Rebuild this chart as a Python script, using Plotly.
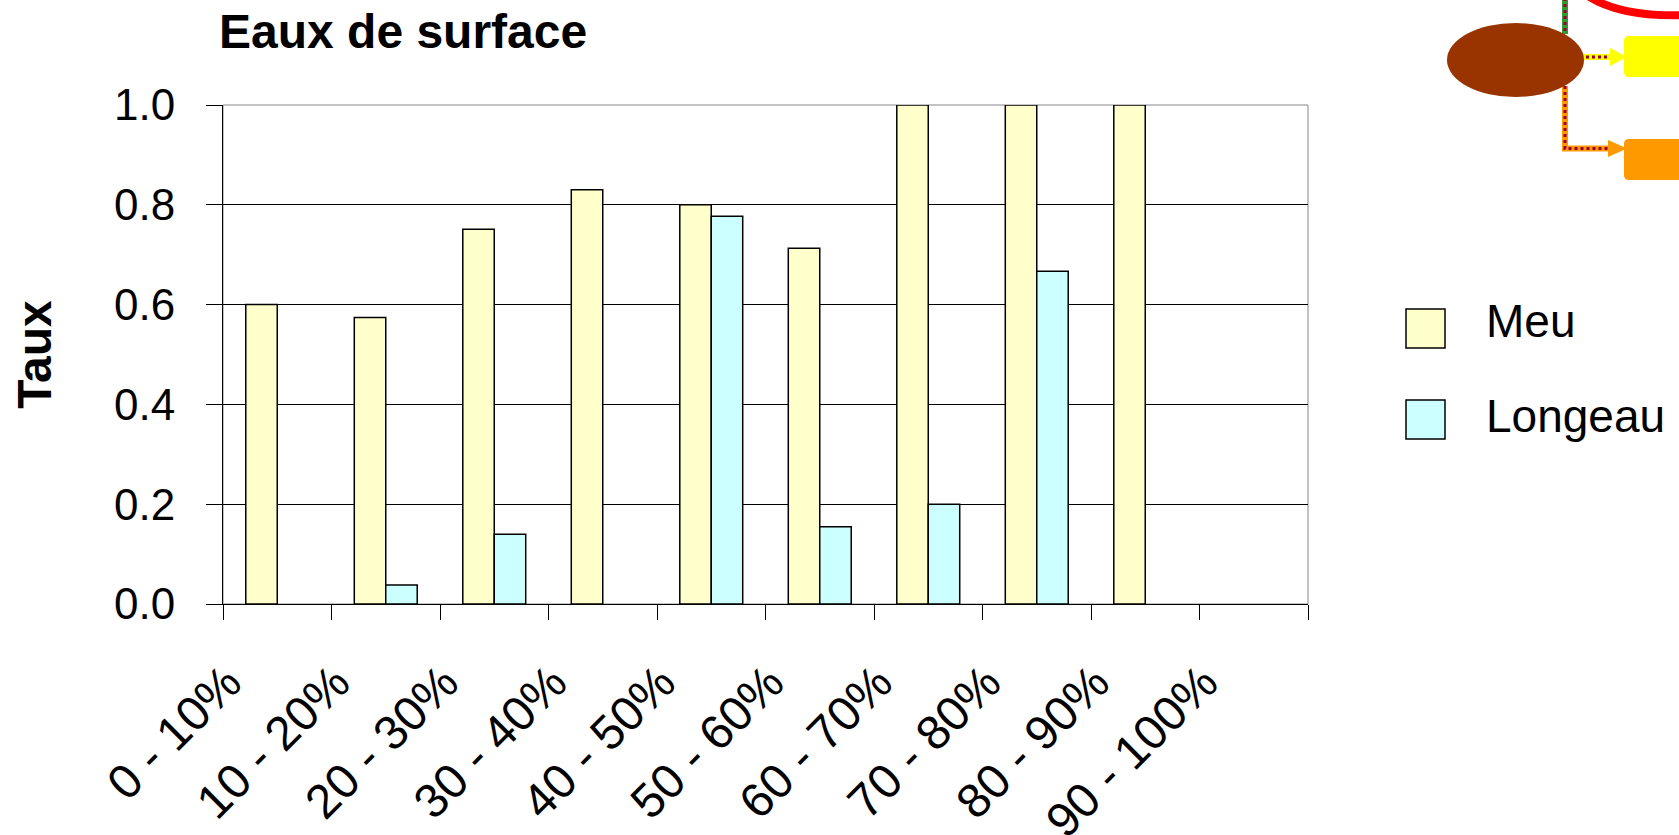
import plotly.graph_objects as go

# ---------------- data ----------------
categories = ["0 - 10%", "10 - 20%", "20 - 30%", "30 - 40%", "40 - 50%",
              "50 - 60%", "60 - 70%", "70 - 80%", "80 - 90%", "90 - 100%"]
meu = [0.60, 0.574, 0.751, 0.83, 0.80, 0.713, 1.0, 1.0, 1.0, None]
longeau = [None, 0.038, 0.14, None, 0.777, 0.155, 0.20, 0.667, None, None]
series_names = ["Meu", "Longeau"]
series_colors = ["#FFFFCC", "#CCFFFF"]
y_ticks = [0.0, 0.2, 0.4, 0.6, 0.8, 1.0]

# ---------------- layout geometry (pixels) ----------------
W, H = 1679, 835
L, R, T, B = 223, 371, 105, 231
PW = W - L - R
PH = H - T - B


def px(x):
    return (x - L) / PW


def py(y):
    return (H - B - y) / PH


FONT = "Liberation Sans, Arial, sans-serif"

fig = go.Figure()
for name, vals, col in zip(series_names, [meu, longeau], series_colors):
    fig.add_trace(go.Bar(
        x=categories, y=vals, name=name,
        marker=dict(color=col, line=dict(color="black", width=1.5)),
        showlegend=False,
    ))

shapes = []
annotations = []

# plot-area frame (gray)
shapes.append(dict(type="rect", xref="paper", yref="paper", x0=0, x1=1, y0=0, y1=1,
                   line=dict(color="#888888", width=1), layer="between"))

# custom legend (large swatches)
leg_swatch = [(309, 348), (400, 439)]
leg_text_y = [321, 416]
for (y0, y1), ty, name, col in zip(leg_swatch, leg_text_y, series_names, series_colors):
    shapes.append(dict(type="rect", xref="paper", yref="paper",
                       x0=px(1406), x1=px(1445), y0=py(y1), y1=py(y0),
                       fillcolor=col, line=dict(color="black", width=1.5)))
    annotations.append(dict(text=name, xref="paper", yref="paper", x=px(1484), y=py(ty),
                            xanchor="left", yanchor="middle", showarrow=False,
                            font=dict(family=FONT, size=46, color="black")))


# decorative diagram fragment (top-right corner)
def path_str(points, close=False):
    s = "M " + " L ".join(f"{px(a)},{py(b)}" for a, b in points)
    return s + (" Z" if close else "")


def rounded_rect(x0, y0, x1, y1, r):
    p = [
        f"M {px(x0 + r)},{py(y0)}",
        f"L {px(x1 - r)},{py(y0)}",
        f"Q {px(x1)},{py(y0)} {px(x1)},{py(y0 + r)}",
        f"L {px(x1)},{py(y1 - r)}",
        f"Q {px(x1)},{py(y1)} {px(x1 - r)},{py(y1)}",
        f"L {px(x0 + r)},{py(y1)}",
        f"Q {px(x0)},{py(y1)} {px(x0)},{py(y1 - r)}",
        f"L {px(x0)},{py(y0 + r)}",
        f"Q {px(x0)},{py(y0)} {px(x0 + r)},{py(y0)} Z",
    ]
    return " ".join(p)


# red arc
shapes.append(dict(type="path", xref="paper", yref="paper",
                   path=f"M {px(1588)},{py(-4)} Q {px(1622)},{py(18)} {px(1690)},{py(15)}",
                   line=dict(color="#FF0000", width=8)))
# green connector
shapes.append(dict(type="line", xref="paper", yref="paper", x0=px(1565), x1=px(1565),
                   y0=py(-2), y1=py(34), line=dict(color="#339933", width=6)))
shapes.append(dict(type="line", xref="paper", yref="paper", x0=px(1565), x1=px(1565),
                   y0=py(-2), y1=py(34), line=dict(color="#990033", width=3, dash="dot")))
# orange connector
shapes.append(dict(type="path", xref="paper", yref="paper",
                   path=path_str([(1565, 86), (1565, 148.5), (1612, 148.5)]),
                   line=dict(color="#FF9900", width=6)))
shapes.append(dict(type="path", xref="paper", yref="paper",
                   path=path_str([(1565, 86), (1565, 148.5), (1612, 148.5)]),
                   line=dict(color="#990033", width=3, dash="dot")))
shapes.append(dict(type="path", xref="paper", yref="paper",
                   path=path_str([(1608, 140), (1627, 148.5), (1608, 157)], close=True),
                   fillcolor="#FF9900", line=dict(width=0)))
# yellow connector
shapes.append(dict(type="line", xref="paper", yref="paper", x0=px(1580), x1=px(1612),
                   y0=py(57), y1=py(57), line=dict(color="#FFFF00", width=6)))
shapes.append(dict(type="line", xref="paper", yref="paper", x0=px(1580), x1=px(1612),
                   y0=py(57), y1=py(57), line=dict(color="#990033", width=3, dash="dot")))
shapes.append(dict(type="path", xref="paper", yref="paper",
                   path=path_str([(1610, 48), (1627, 57), (1610, 66)], close=True),
                   fillcolor="#FFFF00", line=dict(width=0)))
# brown ellipse
shapes.append(dict(type="circle", xref="paper", yref="paper",
                   x0=px(1447), x1=px(1584), y0=py(97), y1=py(23),
                   fillcolor="#993300", line=dict(width=0)))
# yellow / orange boxes
shapes.append(dict(type="path", xref="paper", yref="paper",
                   path=rounded_rect(1624, 36, 1700, 77, 5),
                   fillcolor="#FFFF00", line=dict(width=0)))
shapes.append(dict(type="path", xref="paper", yref="paper",
                   path=rounded_rect(1624, 139, 1700, 180, 5),
                   fillcolor="#FF9900", line=dict(width=0)))

fig.update_layout(
    width=W, height=H,
    margin=dict(l=L, r=R, t=T, b=B, pad=0, autoexpand=False),
    paper_bgcolor="white", plot_bgcolor="white",
    barmode="group", bargap=0.42, bargroupgap=0,
    font=dict(family=FONT, color="black"),
    title=dict(text="<b>Eaux de surface</b>", xref="container", x=219 / W, xanchor="left",
               yref="container", y=1 - 31 / H, yanchor="middle",
               font=dict(family=FONT, size=48, color="black")),
    shapes=shapes,
    annotations=annotations,
    showlegend=False,
)

fig.update_xaxes(
    type="category", range=[-0.5, 9.5], automargin=False,
    showgrid=False, zeroline=False,
    showline=True, linecolor="black", linewidth=1,
    ticks="outside", tickson="boundaries", ticklen=15, tickcolor="black", tickwidth=1,
    tickangle=-45, ticklabelstandoff=30, ticklabelshift=-50,
    tickfont=dict(family=FONT, size=48, color="black"),
)
fig.update_yaxes(
    range=[0, 1], automargin=False,
    tickvals=y_ticks, tickformat=".1f",
    showgrid=True, gridcolor="black", gridwidth=1, zeroline=False,
    showline=True, linecolor="black", linewidth=1,
    ticks="outside", ticklen=16, tickcolor="black", tickwidth=1,
    ticklabelstandoff=22,
    tickfont=dict(family=FONT, size=44, color="black"),
    title=dict(text="<b>Taux</b>", standoff=47, font=dict(family=FONT, size=48, color="black")),
)

fig.write_html("out.html", config={"displayModeBar": False},
               post_script="document.body.style.margin='0';")
